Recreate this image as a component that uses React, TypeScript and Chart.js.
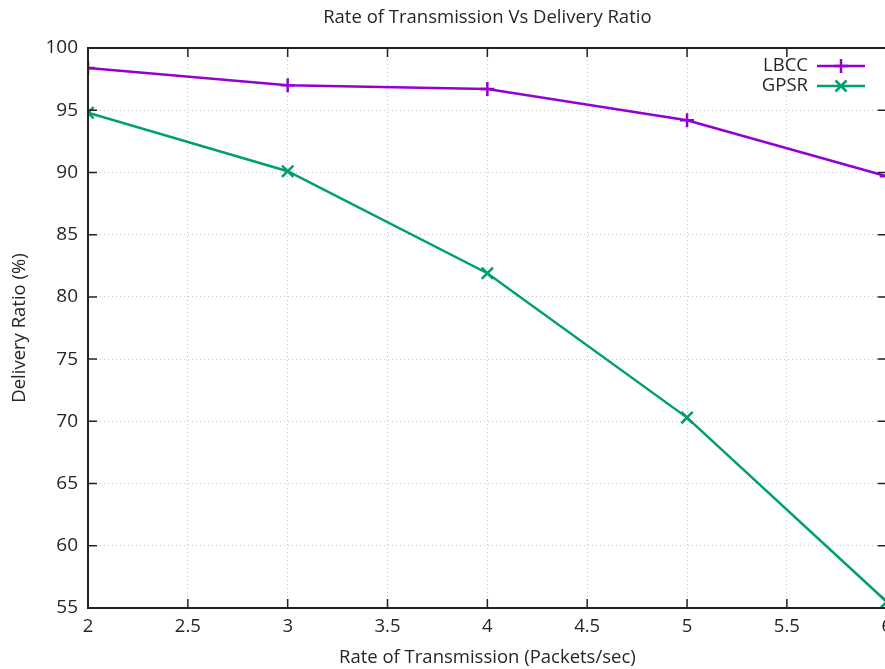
import React, { useEffect, useRef } from "react";
import { Chart, registerables } from "chart.js";

Chart.register(...registerables);

const xValues = [2, 3, 4, 5, 6];
const lbcc = [98.4, 97.0, 96.7, 94.2, 89.7];
const gpsr = [94.8, 90.1, 81.9, 70.3, 55.5];
const seriesNames = ["LBCC", "GPSR"];
const xTicks = [2, 2.5, 3, 3.5, 4, 4.5, 5, 5.5, 6];
const yTicks = [55, 60, 65, 70, 75, 80, 85, 90, 95, 100];

const FONT = "'Open Sans', sans-serif";
const TEXT = "#262626";
const PURPLE = "#9400d3";
const GREEN = "#009e73";

const framePlugin = {
  id: "gnuFrame",
  afterDraw(chart: any) {
    const { ctx, chartArea } = chart;
    const { left, right, top, bottom } = chartArea;
    const xs = chart.scales.x;
    const ys = chart.scales.y;
    ctx.save();
    ctx.strokeStyle = "#222";
    ctx.lineWidth = 1.5;
    ctx.beginPath();
    for (const v of xTicks) {
      const px = xs.getPixelForValue(v);
      ctx.moveTo(px, bottom);
      ctx.lineTo(px, bottom - 9);
      ctx.moveTo(px, top);
      ctx.lineTo(px, top + 9);
    }
    for (const v of yTicks) {
      const py = ys.getPixelForValue(v);
      ctx.moveTo(left, py);
      ctx.lineTo(left + 9, py);
      ctx.moveTo(right, py);
      ctx.lineTo(right - 9, py);
    }
    ctx.stroke();
    ctx.lineWidth = 2;
    ctx.strokeRect(left, top, right - left, bottom - top);
    // title
    ctx.fillStyle = TEXT;
    ctx.font = `18.5px ${FONT}`;
    ctx.textAlign = "center";
    ctx.textBaseline = "middle";
    ctx.fillText("Rate of Transmission Vs Delivery Ratio", (left + right) / 2, 18);
    // legend
    const ds = chart.data.datasets;
    ctx.font = `18.5px ${FONT}`;
    ctx.textAlign = "right";
    const rows = [66, 86];
    ds.forEach((d: any, i: number) => {
      const y = rows[i];
      ctx.fillStyle = TEXT;
      ctx.fillText(d.label, 808, y);
      ctx.strokeStyle = d.borderColor;
      ctx.lineWidth = 2.5;
      ctx.beginPath();
      ctx.moveTo(817, y);
      ctx.lineTo(865, y);
      ctx.stroke();
      const cx = 841;
      const r = 7;
      ctx.beginPath();
      if (i === 0) {
        ctx.moveTo(cx - r, y);
        ctx.lineTo(cx + r, y);
        ctx.moveTo(cx, y - r);
        ctx.lineTo(cx, y + r);
      } else {
        const k = 5.5;
        ctx.moveTo(cx - k, y - k);
        ctx.lineTo(cx + k, y + k);
        ctx.moveTo(cx - k, y + k);
        ctx.lineTo(cx + k, y - k);
      }
      ctx.stroke();
    });
    ctx.restore();
  },
};

export default function App() {
  const ref = useRef<HTMLCanvasElement | null>(null);
  useEffect(() => {
    document.body.style.margin = "0";
    document.body.style.overflow = "hidden";
    const c = ref.current!;
    const chart = new Chart(c, {
      type: "line",
      data: {
        datasets: [
          {
            label: seriesNames[0],
            data: xValues.map((x, i) => ({ x, y: lbcc[i] })),
            borderColor: PURPLE,
            backgroundColor: PURPLE,
            borderWidth: 2.5,
            pointStyle: "cross",
            pointRadius: 7,
            pointBorderWidth: 2.5,
            tension: 0,
          },
          {
            label: seriesNames[1],
            data: xValues.map((x, i) => ({ x, y: gpsr[i] })),
            borderColor: GREEN,
            backgroundColor: GREEN,
            borderWidth: 2.5,
            pointStyle: "crossRot",
            pointRadius: 8,
            pointBorderWidth: 2.5,
            tension: 0,
          },
        ],
      },
      options: {
        animation: false,
        responsive: false,
        layout: { padding: { top: 48, right: 12, left: 0, bottom: 0 } },
        plugins: {
          legend: { display: false },
          title: { display: false },
          tooltip: { enabled: false },
        },
        scales: {
          x: {
            type: "linear",
            min: 2,
            max: 6,
            afterBuildTicks: (s: any) => {
              s.ticks = xTicks.map((v) => ({ value: v }));
            },
            afterFit: (s: any) => {
              s.height = 61;
            },
            grid: { color: "#c8c8c8", lineWidth: 1, drawTicks: false },
            border: { display: false, dash: [1, 3] },
            ticks: {
              color: TEXT,
              font: { family: FONT, size: 18.5 },
              padding: 8,
              maxRotation: 0,
              callback: (v: any) => String(v),
            },
            title: {
              display: true,
              text: "Rate of Transmission (Packets/sec)",
              color: TEXT,
              font: { family: FONT, size: 18.5 },
              padding: { top: 4, bottom: 0 },
            },
          },
          y: {
            type: "linear",
            min: 55,
            max: 100,
            afterBuildTicks: (s: any) => {
              s.ticks = yTicks.map((v) => ({ value: v }));
            },
            afterFit: (s: any) => {
              s.width = 88;
            },
            grid: { color: "#c8c8c8", lineWidth: 1, drawTicks: false },
            border: { display: false, dash: [1, 3] },
            ticks: {
              color: TEXT,
              font: { family: FONT, size: 19 },
              padding: 10,
            },
            title: {
              display: true,
              text: "Delivery Ratio (%)",
              color: TEXT,
              font: { family: FONT, size: 18.5 },
              padding: { top: 9, bottom: 0 },
            },
          },
        },
      },
      plugins: [framePlugin],
    });
    return () => chart.destroy();
  }, []);
  return (
    <div style={{ width: 885, height: 669, overflow: "hidden" }}>
      <canvas ref={ref} width={900} height={669} style={{ display: "block" }} />
    </div>
  );
}
